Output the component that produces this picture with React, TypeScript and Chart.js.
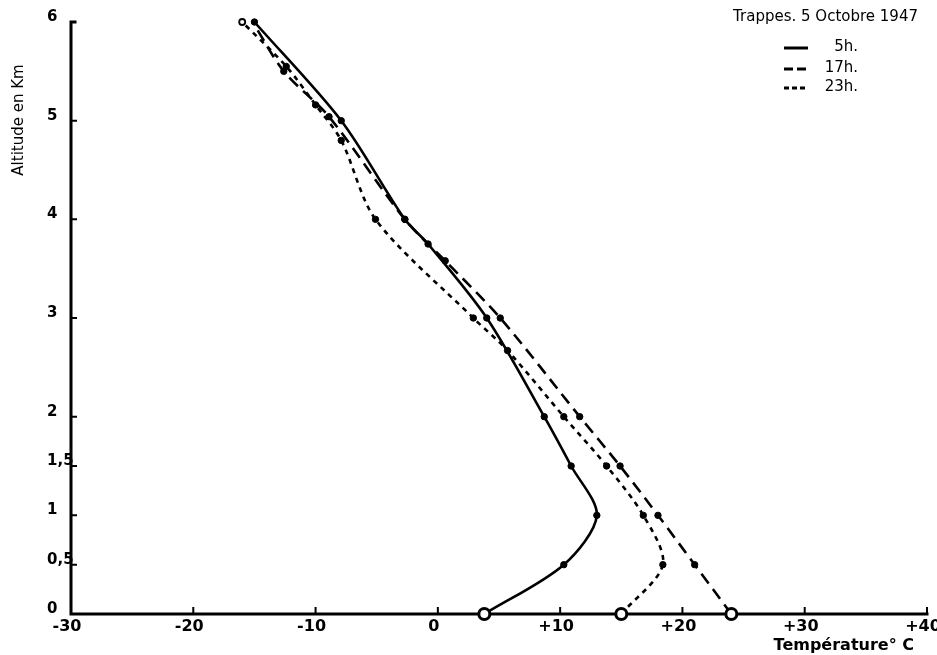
import React, { useEffect, useRef } from 'react';
import { Chart, registerables } from 'chart.js';

Chart.register(...registerables);

// 5h (solid)
const temp5h = [3.8, 10.3, 13.0, 10.9, 8.7, 4.0, -0.8, -2.7, -7.9, -15.0];
const alt5h = [0, 0.5, 1, 1.5, 2, 3, 3.75, 4, 5, 6];
// 17h (long dashes)
const temp17h = [24.0, 21.0, 18.0, 14.9, 11.6, 5.1, 0.6, -2.7, -8.9, -12.6, -15.0];
const alt17h = [0, 0.5, 1, 1.5, 2, 3, 3.58, 4, 5.04, 5.5, 5.97];
// 23h (short dashes)
const temp23h = [15.0, 18.4, 16.8, 13.8, 10.3, 5.7, 2.9, -5.1, -7.9, -10.0, -12.4, -16.0];
const alt23h = [0, 0.5, 1, 1.5, 2, 2.67, 3, 4, 4.8, 5.16, 5.55, 6];

const yTickValues = [0, 0.5, 1, 1.5, 2, 3, 4, 5, 6];
const yTickLabels = ['0', '0,5', '1', '1,5', '2', '3', '4', '5', '6'];
const xTickValues = [-30, -20, -10, 0, 10, 20, 30, 40];
const xTickLabels = ['-30', '-20', '-10', '0', '+10', '+20', '+30', '+40'];

const chartTitle = 'Trappes. 5 Octobre 1947';
const seriesLabels = ['5h.', '17h.', '23h.'];
const yTitle = 'Altitude en Km';
const xTitle = 'Température° C';

const dashes: number[][] = [[], [12, 7], [5, 5]];

function makeData(t: number[], a: number[]) {
  return t.map((v, i) => ({ x: v, y: a[i] }));
}

function pointStyleArrays(n: number, lastOpen: boolean, lastHidden: boolean) {
  const radius: number[] = [];
  const bg: string[] = [];
  const bw: number[] = [];
  for (let i = 0; i < n; i++) {
    if (i === 0) {
      radius.push(5.5); bg.push('#ffffff'); bw.push(3);
    } else if (i === n - 1 && lastHidden) {
      radius.push(0); bg.push('#000'); bw.push(0);
    } else if (i === n - 1 && lastOpen) {
      radius.push(3); bg.push('#ffffff'); bw.push(1.8);
    } else {
      radius.push(3.2); bg.push('#000000'); bw.push(1);
    }
  }
  return { radius, bg, bw };
}

const decorPlugin = {
  id: 'decor',
  beforeDatasetsDraw(chart: any) {
    const ctx = chart.ctx;
    const xs = chart.scales.x;
    const ys = chart.scales.y;
    const left = xs.getPixelForValue(-30);
    const right = xs.getPixelForValue(40);
    const top = ys.getPixelForValue(6);
    const bottom = ys.getPixelForValue(0);
    ctx.save();
    ctx.strokeStyle = '#000';
    ctx.lineCap = 'square';
    ctx.lineWidth = 3;
    ctx.beginPath();
    ctx.moveTo(left + 4, top);
    ctx.lineTo(left, top);
    ctx.lineTo(left, bottom);
    ctx.lineTo(right, bottom);
    ctx.stroke();
    ctx.lineWidth = 2;
    ctx.beginPath();
    for (const v of yTickValues) {
      if (v === 0 || v === 6) continue;
      const y = ys.getPixelForValue(v);
      ctx.moveTo(left, y);
      ctx.lineTo(left + 5, y);
    }
    for (const v of xTickValues) {
      if (v === -30) continue;
      const x = xs.getPixelForValue(v);
      ctx.moveTo(x, bottom);
      ctx.lineTo(x, bottom - 6);
    }
    ctx.stroke();
    ctx.restore();
  },
  afterDraw(chart: any) {
    const ctx = chart.ctx;
    const xs = chart.scales.x;
    const ys = chart.scales.y;
    const bottom = ys.getPixelForValue(0);
    ctx.save();
    ctx.fillStyle = '#000';
    // y tick labels
    ctx.font = 'bold 15px "DejaVu Sans"';
    ctx.textAlign = 'left';
    ctx.textBaseline = 'middle';
    yTickValues.forEach((v, i) => {
      ctx.fillText(yTickLabels[i], 47, ys.getPixelForValue(v) - 5);
    });
    // x tick labels
    ctx.font = 'bold 16px "DejaVu Sans"';
    ctx.textAlign = 'center';
    ctx.textBaseline = 'top';
    xTickValues.forEach((v, i) => {
      ctx.fillText(xTickLabels[i], xs.getPixelForValue(v) - 4, bottom + 5);
    });
    // x title
    ctx.font = 'bold 16px "DejaVu Sans"';
    ctx.textAlign = 'right';
    ctx.textBaseline = 'alphabetic';
    ctx.fillText(xTitle, 914, 650);
    // y title
    ctx.save();
    ctx.translate(19, 120);
    ctx.rotate(-Math.PI / 2);
    ctx.font = '15px "DejaVu Sans"';
    ctx.textAlign = 'center';
    ctx.textBaseline = 'middle';
    ctx.fillText(yTitle, 0, 0);
    ctx.restore();
    // legend
    ctx.font = '15px "DejaVu Sans"';
    ctx.textAlign = 'right';
    ctx.textBaseline = 'middle';
    ctx.fillText(chartTitle, 918, 17);
    const rowsY = [48, 69, 88];
    seriesLabels.forEach((lab, i) => {
      ctx.beginPath();
      ctx.lineWidth = 3;
      ctx.setLineDash(i === 0 ? [] : i === 1 ? [9, 4] : [5, 3]);
      ctx.moveTo(784, rowsY[i]);
      ctx.lineTo(808, rowsY[i]);
      ctx.stroke();
      ctx.setLineDash([]);
      ctx.fillText(lab, 858, rowsY[i] - 1);
    });
    ctx.restore();
  },
};

export default function App() {
  const ref = useRef<HTMLCanvasElement | null>(null);
  useEffect(() => {
    if (!ref.current) return;
    const p5 = pointStyleArrays(temp5h.length, false, false);
    const p17 = pointStyleArrays(temp17h.length, false, true);
    const p23 = pointStyleArrays(temp23h.length, true, false);
    const mk = (label: string, t: number[], a: number[], p: any, i: number) => ({
      label,
      data: makeData(t, a),
      showLine: true,
      borderColor: '#000',
      borderWidth: 2.6,
      borderDash: dashes[i],
      tension: 0.3,
      pointRadius: p.radius,
      pointBackgroundColor: p.bg,
      pointBorderColor: '#000',
      pointBorderWidth: p.bw,
      clip: false,
    });
    const chart = new Chart(ref.current, {
      type: 'scatter',
      data: {
        datasets: [
          mk(seriesLabels[0], temp5h, alt5h, p5, 0),
          mk(seriesLabels[1], temp17h, alt17h, p17, 1),
          mk(seriesLabels[2], temp23h, alt23h, p23, 2),
        ],
      },
      options: {
        animation: false,
        responsive: false,
        layout: { padding: { left: 71, right: 10, top: 22, bottom: 41 } },
        plugins: { legend: { display: false }, tooltip: { enabled: false } },
        scales: {
          x: { type: 'linear', min: -30, max: 40, display: false },
          y: { type: 'linear', min: 0, max: 6, display: false },
        },
      },
      plugins: [decorPlugin],
    } as any);
    return () => chart.destroy();
  }, []);
  return (
    <div style={{ position: 'fixed', left: 0, top: 0, width: 937, height: 655, background: '#fff' }}>
      <canvas ref={ref} width={937} height={655} style={{ display: 'block' }} />
    </div>
  );
}
